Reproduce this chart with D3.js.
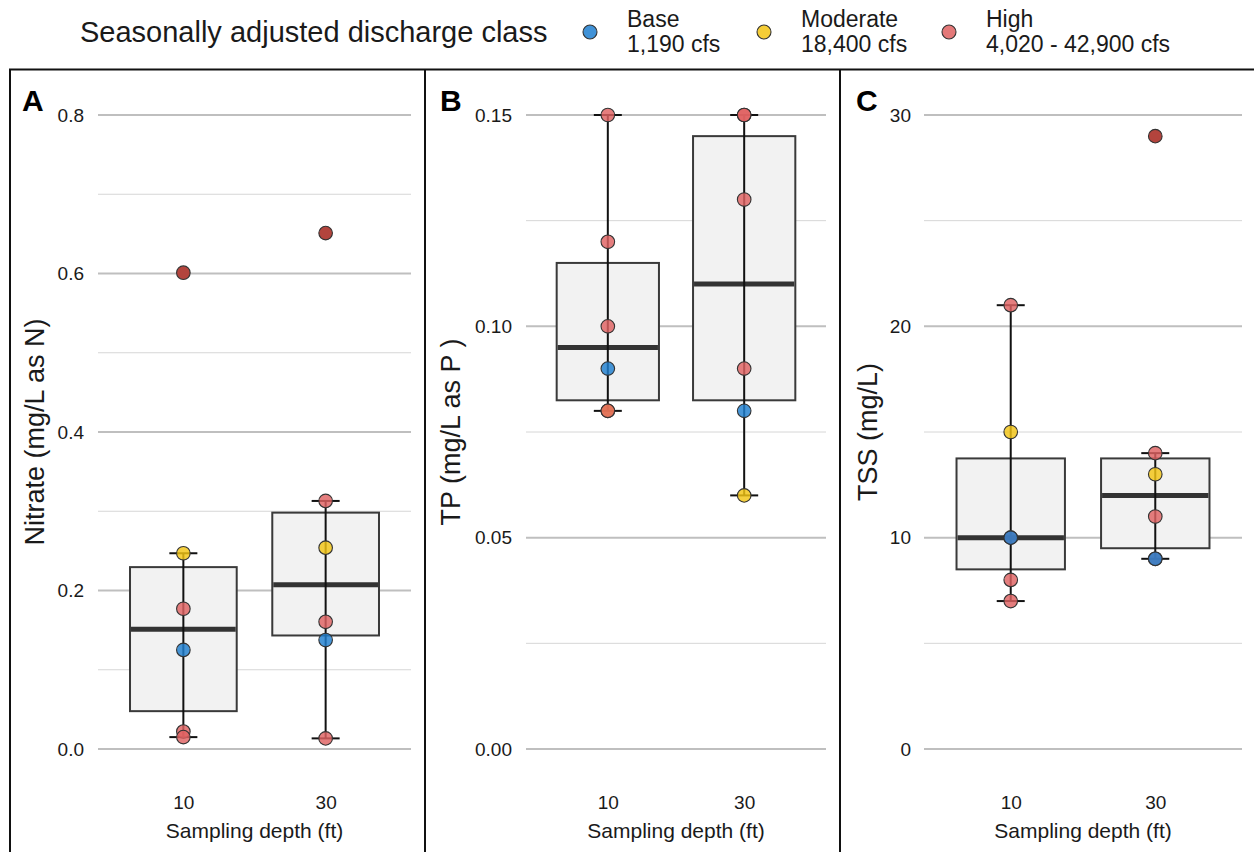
<!DOCTYPE html>
<html>
<head>
<meta charset="utf-8">
<script src="https://cdn.jsdelivr.net/npm/d3@7"></script>
<style>
  html, body { margin: 0; padding: 0; background: #fff; }
  svg { display: block; font-family: "Liberation Sans", Arial, sans-serif; }
</style>
</head>
<body>
<svg id="chart" width="1254" height="852"></svg>
<script>
// ---------------- DATA ----------------
const depths = ["10", "30"];
const classes = ["Base", "Moderate", "High"];
const classLabels = ["1,190 cfs", "18,400 cfs", "4,020 - 42,900 cfs"];
const legendTitle = "Seasonally adjusted discharge class";

// Nitrate (mg/L as N)
const nitrate10 = [0.601, 0.247, 0.177, 0.125, 0.022, 0.015];
const nitrateClass10 = ["High", "Moderate", "High", "Base", "High", "High"];
const nitrate30 = [0.651, 0.313, 0.254, 0.1605, 0.1375, 0.0134];
const nitrateClass30 = ["High", "High", "Moderate", "High", "Base", "High"];
const nitrateTicks = [0, 0.2, 0.4, 0.6, 0.8];
const nitrateMinor = [0.1, 0.3, 0.5, 0.7];

// TP (mg/L as P)
const tp10 = [0.15, 0.12, 0.10, 0.09, 0.08, 0.08];
const tpClass10 = ["High", "High", "High", "Base", "High", "Moderate"];
const tp30 = [0.15, 0.15, 0.13, 0.09, 0.08, 0.06];
const tpClass30 = ["High", "High", "High", "High", "Base", "Moderate"];
const tpTicks = [0, 0.05, 0.10, 0.15];
const tpMinor = [0.025, 0.075, 0.125];

// TSS (mg/L)
const tss10 = [21, 15, 10, 10, 8, 7];
const tssClass10 = ["High", "Moderate", "High", "Base", "High", "High"];
const tss30 = [29, 14, 13, 11, 9, 9];
const tssClass30 = ["High", "High", "Moderate", "High", "High", "Base"];
const tssTicks = [0, 10, 20, 30];
const tssMinor = [5, 15, 25];

// ---------------- STYLE ----------------
const colors = { Base: "#1f7fd0", Moderate: "#f3c414", High: "#df6262" };
const outlierColor = "#b3443d";
const drawOrder = { Moderate: 0, High: 1, Base: 2 };

const svg = d3.select("#chart");

const panels = [
  { letter: "A", title: "Nitrate (mg/L as N)", x0: 98, x1: 411, letterX: 22, titleX: 34, labelRight: 84,
    series: [nitrate10, nitrate30], cls: [nitrateClass10, nitrateClass30],
    ticks: nitrateTicks, minor: nitrateMinor, fmt: d3.format(".1f") },
  { letter: "B", title: "TP (mg/L as P )", x0: 526, x1: 826, letterX: 440, titleX: 450, labelRight: 512,
    series: [tp10, tp30], cls: [tpClass10, tpClass30],
    ticks: tpTicks, minor: tpMinor, fmt: d3.format(".2f") },
  { letter: "C", title: "TSS (mg/L)", x0: 924, x1: 1242, letterX: 856, titleX: 867, labelRight: 911,
    series: [tss10, tss30], cls: [tssClass10, tssClass30],
    ticks: tssTicks, minor: tssMinor, fmt: d3.format("d") }
];

const yTop = 83.3, yBottom = 780.7;

panels.forEach(p => {
  const g = svg.append("g");
  const lo = d3.min(p.ticks), hi = d3.max(p.ticks);
  const pad = (hi - lo) * 0.05;
  const y = d3.scaleLinear().domain([lo - pad, hi + pad]).range([yBottom, yTop]);
  const x = d3.scalePoint().domain(depths).range([p.x0, p.x1]).padding(0.6);
  const step = x.step();
  const boxW = step * 0.75;

  g.selectAll(".minor").data(p.minor).enter().append("line")
    .attr("x1", p.x0).attr("x2", p.x1)
    .attr("y1", d => y(d)).attr("y2", d => y(d))
    .attr("stroke", "#d6d6d6").attr("stroke-width", 1);
  g.selectAll(".major").data(p.ticks).enter().append("line")
    .attr("x1", p.x0).attr("x2", p.x1)
    .attr("y1", d => y(d)).attr("y2", d => y(d))
    .attr("stroke", "#bfbfbf").attr("stroke-width", 2);

  const yAxis = d3.axisLeft(y).tickValues(p.ticks).tickFormat(p.fmt).tickSize(0).tickPadding(0);
  const ya = g.append("g").attr("transform", `translate(${p.labelRight},0)`).call(yAxis);
  ya.select(".domain").remove();
  ya.selectAll("text").attr("font-size", 19).attr("fill", "#1a1a1a")
    .attr("font-family", "Liberation Sans, Arial, sans-serif");

  const xAxis = d3.axisBottom(x).tickSize(0).tickPadding(0);
  const xa = g.append("g").attr("transform", `translate(0,${795})`).call(xAxis);
  xa.select(".domain").remove();
  xa.selectAll("text").attr("font-size", 19).attr("fill", "#1a1a1a")
    .attr("font-family", "Liberation Sans, Arial, sans-serif");

  g.append("text").attr("x", (p.x0 + p.x1) / 2).attr("y", 838)
    .attr("text-anchor", "middle").attr("font-size", 21).attr("fill", "#1a1a1a")
    .text("Sampling depth (ft)");

  g.append("text")
    .attr("transform", `translate(${p.titleX + 9.5},${(yTop + yBottom) / 2}) rotate(-90)`)
    .attr("text-anchor", "middle").attr("font-size", 27).attr("fill", "#1a1a1a")
    .text(p.title);

  g.append("text").attr("x", p.letterX).attr("y", 111)
    .attr("font-size", 30).attr("font-weight", "bold").attr("fill", "#000")
    .text(p.letter);

  depths.forEach((dep, i) => {
    const vals = p.series[i].slice().sort(d3.ascending);
    const q1 = d3.quantile(vals, 0.25), med = d3.quantile(vals, 0.5), q3 = d3.quantile(vals, 0.75);
    const iqr = q3 - q1;
    const loF = q1 - 1.5 * iqr, hiF = q3 + 1.5 * iqr;
    const inside = vals.filter(v => v >= loF && v <= hiF);
    const wLo = d3.min(inside), wHi = d3.max(inside);
    const cx = x(dep);

    g.append("rect").attr("x", cx - boxW / 2).attr("width", boxW)
      .attr("y", y(q3)).attr("height", y(q1) - y(q3))
      .attr("fill", "#f2f2f2").attr("stroke", "#3a3a3a").attr("stroke-width", 2);
    g.append("line").attr("x1", cx - boxW / 2 + 1).attr("x2", cx + boxW / 2 - 1)
      .attr("y1", y(med)).attr("y2", y(med))
      .attr("stroke", "#333").attr("stroke-width", 5);
    g.append("line").attr("x1", cx).attr("x2", cx).attr("y1", y(wLo)).attr("y2", y(wHi))
      .attr("stroke", "#111").attr("stroke-width", 2);
    [wLo, wHi].forEach(w => {
      g.append("line").attr("x1", cx - 14).attr("x2", cx + 14).attr("y1", y(w)).attr("y2", y(w))
        .attr("stroke", "#111").attr("stroke-width", 2);
    });

    const pts = p.series[i].map((v, k) => ({ v, c: p.cls[i][k], out: v < loF || v > hiF }))
      .sort((a, b) => drawOrder[a.c] - drawOrder[b.c]);
    pts.forEach(pt => {
      g.append("circle").attr("cx", cx).attr("cy", y(pt.v)).attr("r", 6.8)
        .attr("fill", pt.out ? outlierColor : colors[pt.c])
        .attr("fill-opacity", pt.out ? 1 : 0.82)
        .attr("stroke", "#333").attr("stroke-width", 1.1);
    });
  });
});

svg.append("line").attr("x1", 9).attr("x2", 1254).attr("y1", 69.5).attr("y2", 69.5)
  .attr("stroke", "#111").attr("stroke-width", 2);
[10, 425, 840].forEach(xv => {
  svg.append("line").attr("x1", xv).attr("x2", xv).attr("y1", 69).attr("y2", 852)
    .attr("stroke", "#111").attr("stroke-width", 2);
});

const lg = svg.append("g");
lg.append("text").attr("x", 80).attr("y", 42).attr("font-size", 29).attr("fill", "#1a1a1a")
  .text(legendTitle);
const legendX = [590, 764, 949];
classes.forEach((c, i) => {
  lg.append("circle").attr("cx", legendX[i]).attr("cy", 32).attr("r", 7)
    .attr("fill", colors[c]).attr("fill-opacity", 0.85)
    .attr("stroke", "#333").attr("stroke-width", 1.1);
  const t = lg.append("text").attr("font-size", 23).attr("fill", "#1a1a1a");
  t.append("tspan").attr("x", legendX[i] + 37).attr("y", 27).text(c);
  t.append("tspan").attr("x", legendX[i] + 37).attr("y", 52).text(classLabels[i]);
});
</script>
</body>
</html>
